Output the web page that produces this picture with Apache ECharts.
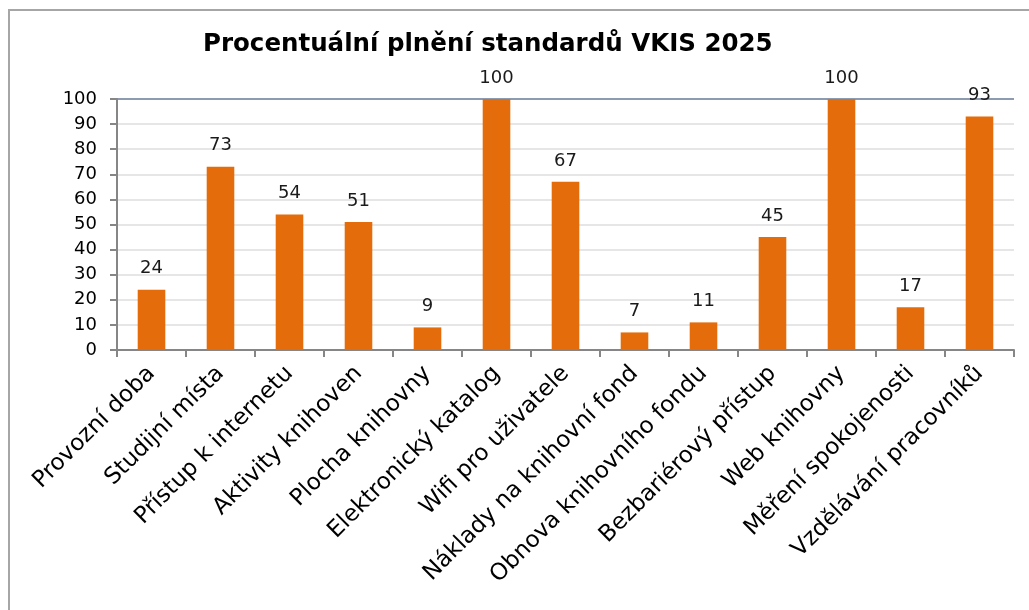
<!DOCTYPE html>
<html>
<head>
<meta charset="utf-8">
<script src="https://cdn.jsdelivr.net/npm/echarts@6/dist/echarts.min.js"></script>
<style>
  html, body { margin: 0; padding: 0; background: #fff; }
  #frame { position: absolute; left: 8px; top: 9px; width: 1100px; height: 700px; border: 2px solid #a6a6a6; }
  #chart { position: absolute; left: 0; top: 0; width: 1029px; height: 610px; }
</style>
</head>
<body>
<div id="frame"></div>
<div id="chart"></div>
<script>
const categories = ['Provozní doba', 'Studijní místa', 'Přístup k internetu', 'Aktivity knihoven', 'Plocha knihovny',
  'Elektronický katalog', 'Wifi pro uživatele', 'Náklady na knihovní fond', 'Obnova knihovního fondu',
  'Bezbariérový přístup', 'Web knihovny', 'Měření spokojenosti', 'Vzdělávání pracovníků']
const values = [24, 73, 54, 51, 9, 100, 67, 7, 11, 45, 100, 17, 93]
const yTicks = [0, 10, 20, 30, 40, 50, 60, 70, 80, 90, 100]

const font = '"Century Gothic", "DejaVu Sans", sans-serif'
// top gridline (100) is drawn darker, as in the original
const gridColors = yTicks.map(t => t === 100 ? '#8c9bb0' : '#e6e6e6')

const chart = echarts.init(document.getElementById('chart'))
chart.setOption({
  animation: false,
  title: {
    text: 'Procentuální plnění standardů VKIS 2025',
    left: 198, top: 27,
    textStyle: { fontFamily: font, fontSize: 24.5, fontWeight: 'bold', color: '#000' }
  },
  grid: { left: 117, right: 15, top: 99, bottom: 260, containLabel: false },
  xAxis: {
    type: 'category',
    data: categories,
    axisLine: { lineStyle: { color: '#868686', width: 2 } },
    axisTick: { show: true, length: 7, lineStyle: { color: '#868686', width: 2 } },
    axisLabel: { rotate: 45, margin: 20, fontFamily: font, fontSize: 23, color: '#000', interval: 0 }
  },
  yAxis: {
    type: 'value',
    min: 0, max: 100, interval: 10,
    axisLine: { show: true, lineStyle: { color: '#868686', width: 2 } },
    axisTick: { show: true, length: 7, lineStyle: { color: '#868686', width: 2 } },
    axisLabel: { margin: 20, fontFamily: font, fontSize: 18, color: '#000' },
    splitLine: { show: true, lineStyle: { color: gridColors, width: 2 } }
  },
  series: [{
    type: 'bar',
    data: values,
    barWidth: '40%',
    itemStyle: { color: '#e46c0a' },
    label: { show: true, position: 'top', distance: 12, fontFamily: font, fontSize: 18, color: '#1a1a1a' }
  }]
})
</script>
</body>
</html>
